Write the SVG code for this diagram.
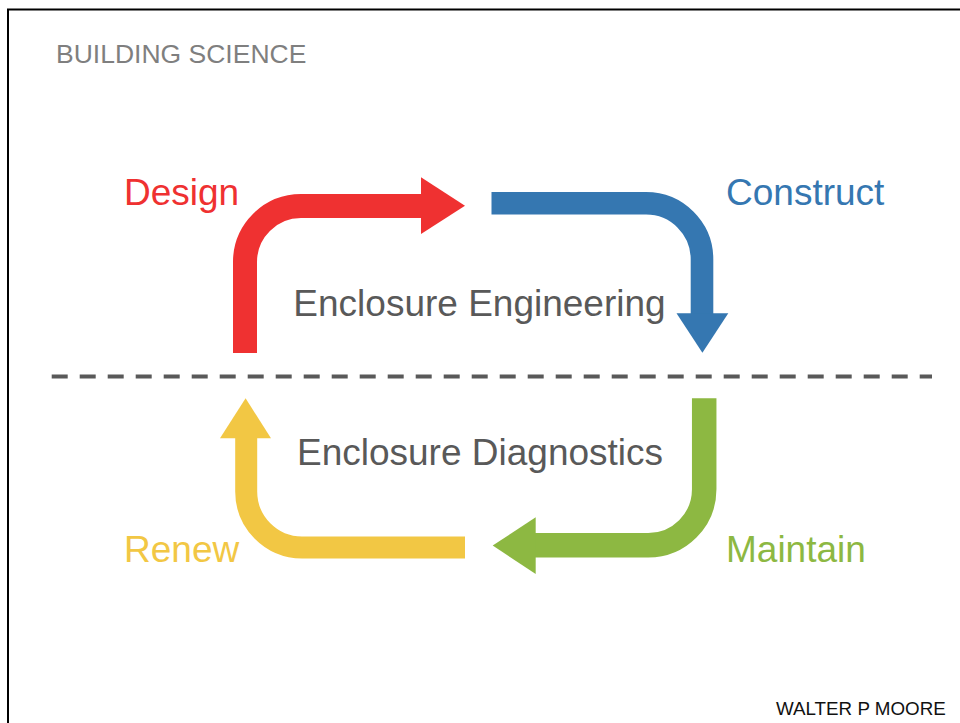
<svg xmlns="http://www.w3.org/2000/svg" width="960" height="723" viewBox="0 0 960 723">
<style>
.lbl{font-family:"Liberation Sans",Arial,sans-serif;font-size:37px}
.mid{font-family:"Liberation Sans",Arial,sans-serif;font-size:37px;fill:#595959;text-anchor:middle}
.shaft{fill:none;stroke-linecap:butt}
</style>
<rect width="960" height="723" fill="#ffffff"/>
<rect x="8" y="9.5" width="970" height="730" fill="none" stroke="#000000" stroke-width="2"/>
<text x="56" y="62.5" font-family="'Liberation Sans',Arial,sans-serif" font-size="26.5" fill="#7f7f7f">BUILDING SCIENCE</text>
<text x="776" y="715" font-family="'Liberation Sans',Arial,sans-serif" font-size="18.8" fill="#111111">WALTER P MOORE</text>
<g id="connectors">
<line x1="51.7" y1="376.5" x2="932" y2="376.5" stroke="#595959" stroke-width="4" stroke-dasharray="16 12"/>
<g id="design-arrow">
<path class="shaft" d="M245 353 V262 A56 56 0 0 1 301 206 H422" stroke="#ef3131" stroke-width="24"/>
<polygon points="421,177.3 465,205.8 421,234" fill="#ef3131"/>
</g>
<g id="construct-arrow">
<path class="shaft" d="M491.5 203.3 H646 A56 56 0 0 1 702 259.3 V314" stroke="#3577b1" stroke-width="22.6"/>
<polygon points="676.5,313.3 728.3,313.3 702.4,352.7" fill="#3577b1"/>
</g>
<g id="maintain-arrow">
<path class="shaft" d="M704.2 398.3 V489.3 A56 56 0 0 1 648.2 545.3 H535" stroke="#8db842" stroke-width="24.5"/>
<polygon points="535.7,517.3 535.7,574 492.7,545.6" fill="#8db842"/>
</g>
<g id="renew-arrow">
<path class="shaft" d="M465 547.5 H302 A56 56 0 0 1 246.2 491.5 V437.5" stroke="#f2c744" stroke-width="22"/>
<polygon points="220,438.3 271,438.3 245.6,398.3" fill="#f2c744"/>
</g>
</g>
<g id="node-design"><text class="lbl" x="124" y="204.5" fill="#ef3131">Design</text></g>
<g id="node-construct"><text class="lbl" x="726" y="204.5" fill="#3577b1">Construct</text></g>
<g id="node-maintain"><text class="lbl" x="726" y="562" fill="#8db842">Maintain</text></g>
<g id="node-renew"><text class="lbl" x="124" y="562" fill="#f2c744">Renew</text></g>
<g id="node-engineering"><text class="mid" x="479.5" y="316">Enclosure Engineering</text></g>
<g id="node-diagnostics"><text class="mid" x="480" y="465">Enclosure Diagnostics</text></g>
</svg>
